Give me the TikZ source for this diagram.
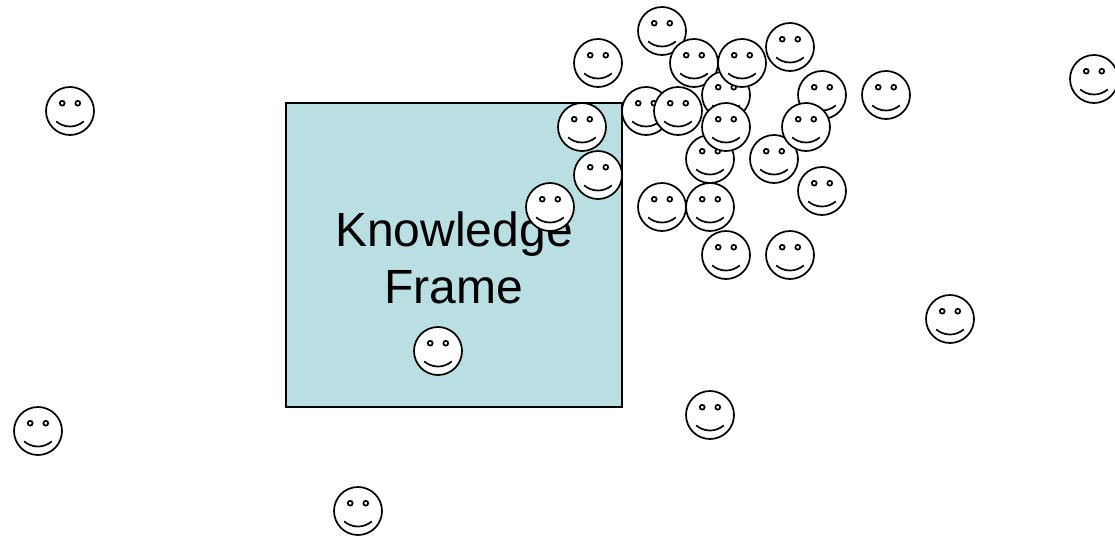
\documentclass[tikz,border=0pt]{standalone}
\usepackage{fontspec}
\setmainfont{Liberation Sans}
\definecolor{framefill}{HTML}{B9DFE3}
\tikzset{
  smiley/.style={circle,draw=black,fill=white,line width=1.7pt,minimum size=48pt,inner sep=0pt,outer sep=0pt,
    path picture={
      \draw[line width=1.7pt] (path picture bounding box.center)++(-7.8,-7.8) circle[radius=2.4pt];
      \draw[line width=1.7pt] (path picture bounding box.center)++(7.8,-7.8) circle[radius=2.4pt];
      \draw[line width=1.7pt] (path picture bounding box.center)++(-13.8,10.4) .. controls +(8,6.8) and +(-8,6.8) .. +(27.6,0);
    }},
  framebox/.style={draw=black,fill=framefill,line width=1.7pt,minimum width=336pt,minimum height=304pt,inner sep=0pt,outer sep=0pt},
  framelabel/.style={align=center,inner sep=0pt,font=\fontsize{48}{57}\selectfont}
}
\begin{document}
\begin{tikzpicture}[x=1pt,y=-1pt]
\useasboundingbox (0,0) rectangle (1115,536);
\node[framebox] (frame) at (454,255) {};
\node[framelabel] (label) at (454,258) {Knowledge\\Frame};
\foreach \n/\x/\y in {a/70/111,b/38/431,c/358/511,d/438/351,e/710/415,f/950/319,g/1094/79,h/886/95,
  i/662/31,j/598/63,k/694/63,l/726/95,m/742/63,n/790/47,o/822/95,p/646/111,q/678/111,r/582/127,
  s/710/159,t/726/127,u/774/159,v/806/127,w/598/175,x/550/207,y/662/207,z/710/207,aa/822/191,ab/726/255,ac/790/255}
  \node[smiley] (s\n) at (\x,\y) {};
\end{tikzpicture}
\end{document}
